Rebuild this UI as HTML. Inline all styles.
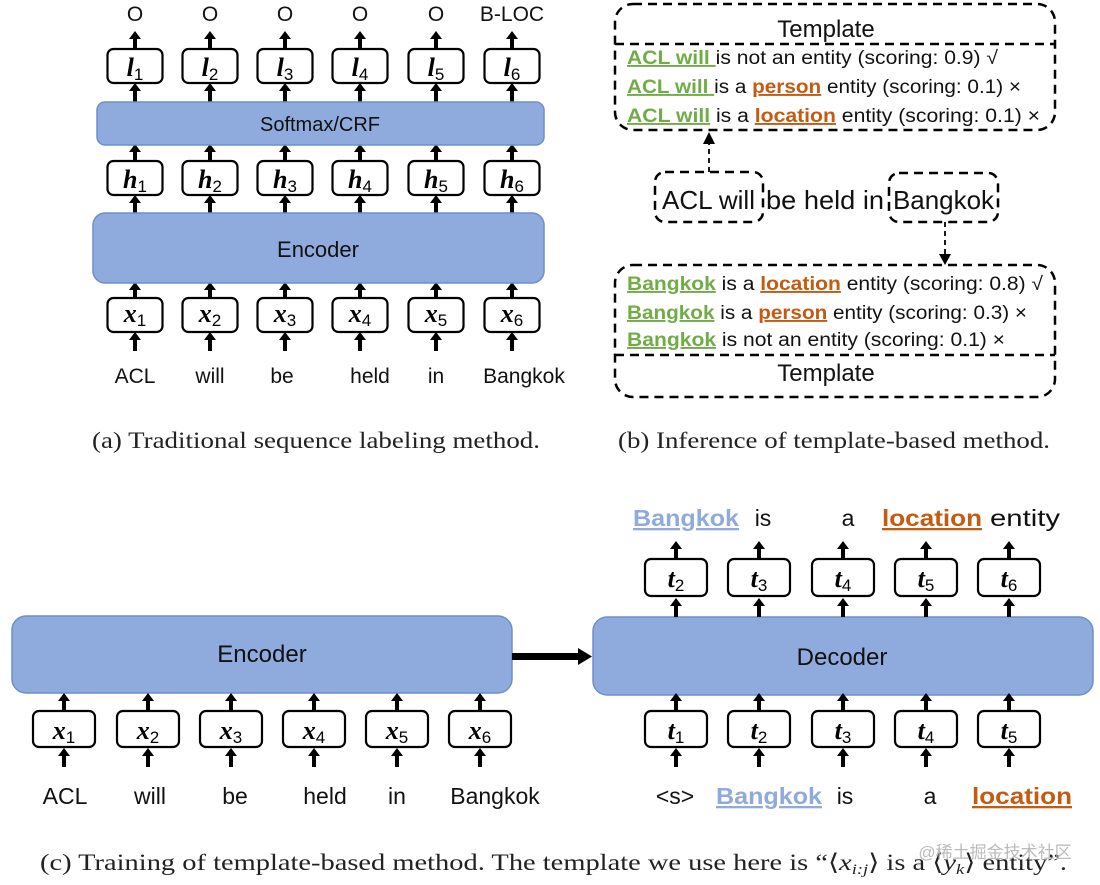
<!DOCTYPE html>
<html><head><meta charset="utf-8"><style>
html,body{margin:0;padding:0;background:#fff;}
svg{display:block;}
.w{font-family:"Liberation Sans",sans-serif;fill:#111;}
.cap{font-family:"Liberation Serif",serif;fill:#222;font-size:23px;}
.m{font-family:"Liberation Serif",serif;font-weight:bold;font-style:italic;font-size:26px;fill:#000;}
.s{font-family:"Liberation Sans",sans-serif;font-size:17px;font-style:normal;font-weight:normal;}
.bx{fill:#fff;stroke:#000;stroke-width:2.2;}
.bl{fill:#8FAADC;stroke:#6F8FC8;stroke-width:1.5;}
.g{fill:#70AD47;font-weight:bold;text-decoration:underline;}
.o{fill:#C55A11;font-weight:bold;text-decoration:underline;}
.lb{fill:#8FAADC;font-weight:bold;text-decoration:underline;}
.d{fill:none;stroke:#000;stroke-width:2.5;stroke-dasharray:9 6;}
</style></head><body>
<svg width="1100" height="885" viewBox="0 0 1100 885" xmlns="http://www.w3.org/2000/svg">
<defs>
<g id="ar"><rect x="-2" y="7" width="4" height="12" fill="#000"/><polygon points="-6,8 6,8 0,0" fill="#000"/></g>
</defs>

<!-- ===== (a) ===== -->
<g class="w" font-size="21" text-anchor="middle">
<text x="135" y="21">O</text><text x="210" y="21">O</text><text x="285" y="21">O</text><text x="360" y="21">O</text><text x="436" y="21">O</text><text x="512" y="21">B-LOC</text>
</g>
<g>
<use href="#ar" x="135" y="31"/><use href="#ar" x="210" y="31"/><use href="#ar" x="285" y="31"/><use href="#ar" x="360" y="31"/><use href="#ar" x="436" y="31"/><use href="#ar" x="512" y="31"/>
<use href="#ar" x="135" y="83"/><use href="#ar" x="210" y="83"/><use href="#ar" x="285" y="83"/><use href="#ar" x="360" y="83"/><use href="#ar" x="436" y="83"/><use href="#ar" x="512" y="83"/>
<use href="#ar" x="135" y="144"/><use href="#ar" x="210" y="144"/><use href="#ar" x="285" y="144"/><use href="#ar" x="360" y="144"/><use href="#ar" x="436" y="144"/><use href="#ar" x="512" y="144"/>
<use href="#ar" x="135" y="195"/><use href="#ar" x="210" y="195"/><use href="#ar" x="285" y="195"/><use href="#ar" x="360" y="195"/><use href="#ar" x="436" y="195"/><use href="#ar" x="512" y="195"/>
<use href="#ar" x="135" y="282"/><use href="#ar" x="210" y="282"/><use href="#ar" x="285" y="282"/><use href="#ar" x="360" y="282"/><use href="#ar" x="436" y="282"/><use href="#ar" x="512" y="282"/>
<use href="#ar" x="135" y="332"/><use href="#ar" x="210" y="332"/><use href="#ar" x="285" y="332"/><use href="#ar" x="360" y="332"/><use href="#ar" x="436" y="332"/><use href="#ar" x="512" y="332"/>
</g>
<g>
<rect class="bx" x="107.5" y="49" width="55" height="34" rx="6"/><rect class="bx" x="182.5" y="49" width="55" height="34" rx="6"/><rect class="bx" x="257.5" y="49" width="55" height="34" rx="6"/><rect class="bx" x="332.5" y="49" width="55" height="34" rx="6"/><rect class="bx" x="408.5" y="49" width="55" height="34" rx="6"/><rect class="bx" x="484.5" y="49" width="55" height="34" rx="6"/>
<rect class="bx" x="107.5" y="161" width="55" height="34" rx="6"/><rect class="bx" x="182.5" y="161" width="55" height="34" rx="6"/><rect class="bx" x="257.5" y="161" width="55" height="34" rx="6"/><rect class="bx" x="332.5" y="161" width="55" height="34" rx="6"/><rect class="bx" x="408.5" y="161" width="55" height="34" rx="6"/><rect class="bx" x="484.5" y="161" width="55" height="34" rx="6"/>
<rect class="bx" x="107.5" y="298" width="55" height="34" rx="6"/><rect class="bx" x="182.5" y="298" width="55" height="34" rx="6"/><rect class="bx" x="257.5" y="298" width="55" height="34" rx="6"/><rect class="bx" x="332.5" y="298" width="55" height="34" rx="6"/><rect class="bx" x="408.5" y="298" width="55" height="34" rx="6"/><rect class="bx" x="484.5" y="298" width="55" height="34" rx="6"/>
</g>
<g class="m" text-anchor="middle">
<text x="135" y="76">l<tspan class="s" dy="4">1</tspan></text><text x="210" y="76">l<tspan class="s" dy="4">2</tspan></text><text x="285" y="76">l<tspan class="s" dy="4">3</tspan></text><text x="360" y="76">l<tspan class="s" dy="4">4</tspan></text><text x="436" y="76">l<tspan class="s" dy="4">5</tspan></text><text x="512" y="76">l<tspan class="s" dy="4">6</tspan></text>
<text x="135" y="188">h<tspan class="s" dy="4">1</tspan></text><text x="210" y="188">h<tspan class="s" dy="4">2</tspan></text><text x="285" y="188">h<tspan class="s" dy="4">3</tspan></text><text x="360" y="188">h<tspan class="s" dy="4">4</tspan></text><text x="436" y="188">h<tspan class="s" dy="4">5</tspan></text><text x="512" y="188">h<tspan class="s" dy="4">6</tspan></text>
<text x="135" y="322">x<tspan class="s" dy="4">1</tspan></text><text x="210" y="322">x<tspan class="s" dy="4">2</tspan></text><text x="285" y="322">x<tspan class="s" dy="4">3</tspan></text><text x="360" y="322">x<tspan class="s" dy="4">4</tspan></text><text x="436" y="322">x<tspan class="s" dy="4">5</tspan></text><text x="512" y="322">x<tspan class="s" dy="4">6</tspan></text>
</g>
<rect class="bl" x="97" y="102" width="447" height="43" rx="8"/>
<text class="w" x="320" y="131" font-size="20" text-anchor="middle">Softmax/CRF</text>
<rect class="bl" x="93" y="213" width="451" height="70" rx="12"/>
<text class="w" x="318" y="257" font-size="22" text-anchor="middle">Encoder</text>
<g class="w" font-size="21" text-anchor="middle">
<text x="135" y="383">ACL</text><text x="210" y="383">will</text><text x="282" y="383">be</text><text x="370" y="383">held</text><text x="436" y="383">in</text><text x="524" y="383">Bangkok</text>
</g>
<text class="cap" x="92" y="448" textLength="448" lengthAdjust="spacingAndGlyphs">(a)  Traditional sequence labeling method.</text>

<!-- ===== (b) ===== -->
<rect class="d" x="615" y="4" width="440" height="126" rx="18"/>
<line class="d" x1="615" y1="44" x2="1055" y2="44"/>
<text class="w" x="826" y="37" font-size="24" text-anchor="middle">Template</text>
<g class="w" font-size="19">
<text x="627" y="64" textLength="371" lengthAdjust="spacingAndGlyphs"><tspan class="g">ACL will </tspan>is not an entity (scoring: 0.9) √</text>
<text x="627" y="93" textLength="394" lengthAdjust="spacingAndGlyphs"><tspan class="g">ACL will </tspan>is a <tspan class="o">person</tspan> entity (scoring: 0.1) ×</text>
<text x="627" y="122" textLength="413" lengthAdjust="spacingAndGlyphs"><tspan class="g">ACL will</tspan> is a <tspan class="o">location</tspan> entity (scoring: 0.1) ×</text>
</g>
<line x1="709" y1="172" x2="709" y2="142" stroke="#000" stroke-width="1.8" stroke-dasharray="5 4"/>
<polygon points="703,144 715,144 709,132" fill="#000"/>
<rect class="d" x="655" y="172" width="108" height="50" rx="10"/>
<rect class="d" x="889" y="173" width="109" height="49" rx="10"/>
<g class="w" font-size="26">
<text x="662" y="209" textLength="93" lengthAdjust="spacingAndGlyphs">ACL will</text>
<text x="766" y="209" textLength="118" lengthAdjust="spacingAndGlyphs">be held in</text>
<text x="893" y="209" textLength="101" lengthAdjust="spacingAndGlyphs">Bangkok</text>
</g>
<line x1="945" y1="222" x2="945" y2="256" stroke="#000" stroke-width="1.8" stroke-dasharray="5 4"/>
<polygon points="939,254 951,254 945,265" fill="#000"/>
<rect class="d" x="615" y="265" width="440" height="132" rx="18"/>
<line class="d" x1="615" y1="355" x2="1055" y2="355"/>
<text class="w" x="826" y="381" font-size="24" text-anchor="middle">Template</text>
<g class="w" font-size="19">
<text x="627" y="290" textLength="416" lengthAdjust="spacingAndGlyphs"><tspan class="g">Bangkok</tspan> is a <tspan class="o">location</tspan> entity (scoring: 0.8) √</text>
<text x="627" y="319" textLength="400" lengthAdjust="spacingAndGlyphs"><tspan class="g">Bangkok</tspan> is a <tspan class="o">person</tspan> entity (scoring: 0.3) ×</text>
<text x="627" y="346" textLength="378" lengthAdjust="spacingAndGlyphs"><tspan class="g">Bangkok</tspan> is not an entity (scoring: 0.1) ×</text>
</g>
<text class="cap" x="618" y="448" textLength="432" lengthAdjust="spacingAndGlyphs">(b)  Inference of template-based method.</text>

<!-- ===== (c) ===== -->
<rect class="bl" x="12" y="616" width="500" height="77" rx="14"/>
<text class="w" x="262" y="662" font-size="24" text-anchor="middle">Encoder</text>
<rect x="512" y="653" width="68" height="7" fill="#000"/>
<polygon points="578,648 592,656.5 578,665" fill="#000"/>
<rect class="bl" x="593" y="617" width="500" height="78" rx="14"/>
<text class="w" x="842" y="665" font-size="24" text-anchor="middle">Decoder</text>

<g>
<use href="#ar" x="64" y="693"/><use href="#ar" x="148" y="693"/><use href="#ar" x="231" y="693"/><use href="#ar" x="314" y="693"/><use href="#ar" x="397" y="693"/><use href="#ar" x="480" y="693"/>
<use href="#ar" x="64" y="748"/><use href="#ar" x="148" y="748"/><use href="#ar" x="231" y="748"/><use href="#ar" x="314" y="748"/><use href="#ar" x="397" y="748"/><use href="#ar" x="480" y="748"/>
<use href="#ar" x="676" y="693"/><use href="#ar" x="759" y="693"/><use href="#ar" x="843" y="693"/><use href="#ar" x="926" y="693"/><use href="#ar" x="1009" y="693"/>
<use href="#ar" x="676" y="748"/><use href="#ar" x="759" y="748"/><use href="#ar" x="843" y="748"/><use href="#ar" x="926" y="748"/><use href="#ar" x="1009" y="748"/>
<use href="#ar" x="676" y="598"/><use href="#ar" x="759" y="598"/><use href="#ar" x="843" y="598"/><use href="#ar" x="926" y="598"/><use href="#ar" x="1009" y="598"/>
<use href="#ar" x="676" y="541"/><use href="#ar" x="759" y="541"/><use href="#ar" x="843" y="541"/><use href="#ar" x="926" y="541"/><use href="#ar" x="1009" y="541"/>
</g>
<g>
<rect class="bx" x="33" y="711" width="62" height="36" rx="6"/><rect class="bx" x="117" y="711" width="62" height="36" rx="6"/><rect class="bx" x="200" y="711" width="62" height="36" rx="6"/><rect class="bx" x="283" y="711" width="62" height="36" rx="6"/><rect class="bx" x="366" y="711" width="62" height="36" rx="6"/><rect class="bx" x="449" y="711" width="62" height="36" rx="6"/>
<rect class="bx" x="645" y="711" width="62" height="36" rx="6"/><rect class="bx" x="728" y="711" width="62" height="36" rx="6"/><rect class="bx" x="812" y="711" width="62" height="36" rx="6"/><rect class="bx" x="895" y="711" width="62" height="36" rx="6"/><rect class="bx" x="978" y="711" width="62" height="36" rx="6"/>
<rect class="bx" x="645" y="559" width="62" height="37" rx="6"/><rect class="bx" x="728" y="559" width="62" height="37" rx="6"/><rect class="bx" x="812" y="559" width="62" height="37" rx="6"/><rect class="bx" x="895" y="559" width="62" height="37" rx="6"/><rect class="bx" x="978" y="559" width="62" height="37" rx="6"/>
</g>
<g class="m" text-anchor="middle">
<text x="64" y="739">x<tspan class="s" dy="4">1</tspan></text><text x="148" y="739">x<tspan class="s" dy="4">2</tspan></text><text x="231" y="739">x<tspan class="s" dy="4">3</tspan></text><text x="314" y="739">x<tspan class="s" dy="4">4</tspan></text><text x="397" y="739">x<tspan class="s" dy="4">5</tspan></text><text x="480" y="739">x<tspan class="s" dy="4">6</tspan></text>
<text x="676" y="739">t<tspan class="s" dy="4">1</tspan></text><text x="759" y="739">t<tspan class="s" dy="4">2</tspan></text><text x="843" y="739">t<tspan class="s" dy="4">3</tspan></text><text x="926" y="739">t<tspan class="s" dy="4">4</tspan></text><text x="1009" y="739">t<tspan class="s" dy="4">5</tspan></text>
<text x="676" y="587">t<tspan class="s" dy="4">2</tspan></text><text x="759" y="587">t<tspan class="s" dy="4">3</tspan></text><text x="843" y="587">t<tspan class="s" dy="4">4</tspan></text><text x="926" y="587">t<tspan class="s" dy="4">5</tspan></text><text x="1009" y="587">t<tspan class="s" dy="4">6</tspan></text>
</g>
<g class="w" font-size="23">
<text x="65" y="804" text-anchor="middle">ACL</text><text x="150" y="804" text-anchor="middle">will</text><text x="235" y="804" text-anchor="middle">be</text><text x="325" y="804" text-anchor="middle">held</text><text x="397" y="804" text-anchor="middle">in</text><text x="495" y="804" text-anchor="middle">Bangkok</text>
<text x="675" y="804" text-anchor="middle">&lt;s&gt;</text>
<text x="716" y="804" class="lb" textLength="106" lengthAdjust="spacingAndGlyphs">Bangkok</text>
<text x="845" y="804" text-anchor="middle">is</text><text x="930" y="804" text-anchor="middle">a</text>
<text x="972" y="804" class="o" textLength="100" lengthAdjust="spacingAndGlyphs">location</text>
<text x="633" y="526" class="lb" textLength="106" lengthAdjust="spacingAndGlyphs">Bangkok</text>
<text x="763" y="526" text-anchor="middle">is</text><text x="848" y="526" text-anchor="middle">a</text>
<text x="882" y="526" class="o" textLength="100" lengthAdjust="spacingAndGlyphs">location</text>
<text x="990" y="526" textLength="70" lengthAdjust="spacingAndGlyphs">entity</text>
</g>
<text class="cap" x="40" y="870" textLength="1027" lengthAdjust="spacingAndGlyphs">(c)  Training of template-based method. The template we use here is “⟨<tspan font-style="italic">x<tspan font-size="15" dy="4">i:j</tspan></tspan><tspan dy="-4">⟩ is a ⟨</tspan><tspan font-style="italic">y<tspan font-size="15" dy="4">k</tspan></tspan><tspan dy="-4">⟩ entity”.</tspan></text>
<text x="995" y="858" font-family="'Liberation Sans','Noto Sans CJK SC',sans-serif" font-size="17" fill="#bbb" text-anchor="middle">@稀土掘金技术社区</text>
</svg>
</body></html>
